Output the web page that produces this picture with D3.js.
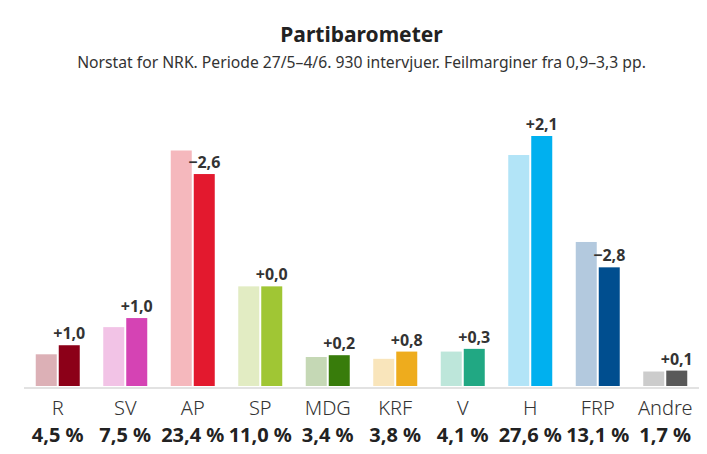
<!DOCTYPE html>
<html>
<head>
<meta charset="utf-8">
<script src="https://cdn.jsdelivr.net/npm/d3@7"></script>
<style>
  html, body { margin: 0; padding: 0; background: #fff; }
  svg { display: block; }
  text { font-family: "Noto Sans", Lato, sans-serif; }
</style>
</head>
<body>
<svg id="chart" width="707" height="454"></svg>
<script>
const parties = ["R", "SV", "AP", "SP", "MDG", "KRF", "V", "H", "FRP", "Andre"];
const current = [4.5, 7.5, 23.4, 11.0, 3.4, 3.8, 4.1, 27.6, 13.1, 1.7];
const change = [1.0, 1.0, -2.6, 0.0, 0.2, 0.8, 0.3, 2.1, -2.8, 0.1];
const previous = [3.5, 6.5, 26.0, 11.0, 3.2, 3.0, 3.8, 25.5, 15.9, 1.6];
const colorsPrev = ["#dcb0b6", "#f2c3e6", "#f5b8bd", "#e2ecc3", "#c5d8b5", "#f9e5bb", "#bde6da", "#b2e4f7", "#b3c9de", "#cccccc"];
const colorsCur = ["#8c0018", "#d543b4", "#e3192e", "#a0c634", "#387c0b", "#eeac1d", "#21a883", "#00b0ef", "#004e8f", "#595959"];
const title = "Partibarometer";
const subtitle = "Norstat for NRK. Periode 27/5–4/6. 930 intervjuer. Feilmarginer fra 0,9–3,3 pp.";

const fmt = v => v.toFixed(1).replace(".", ",");
const fmtChange = v => (v < 0 ? "−" : "+") + fmt(Math.abs(v));

const svg = d3.select("#chart");
const left = 24, right = 699, baseY = 386;

const x = d3.scaleBand().domain(parties).range([left, right]).padding(0);
const y = d3.scaleLinear().domain([0, 27.6]).range([baseY, 136]);
const barW = 21, gap = 2;

svg.append("text")
  .attr("x", (left + right) / 2).attr("y", 42)
  .attr("text-anchor", "middle")
  .attr("font-size", 21).attr("font-weight", 700).attr("fill", "#222")
  .text(title);

svg.append("text")
  .attr("x", (left + right) / 2).attr("y", 68)
  .attr("text-anchor", "middle")
  .attr("font-size", 15.7).attr("fill", "#333")
  .text(subtitle);

const data = parties.map((p, i) => ({ p, prev: previous[i], cur: current[i], ch: change[i], cp: colorsPrev[i], cc: colorsCur[i] }));

const g = svg.append("g").selectAll("g").data(data).join("g")
  .attr("transform", d => `translate(${x(d.p) + x.bandwidth() / 2},0)`);

g.append("rect")
  .attr("x", -barW - gap / 2).attr("width", barW)
  .attr("y", d => y(d.prev)).attr("height", d => baseY - y(d.prev))
  .attr("fill", d => d.cp);

g.append("rect")
  .attr("x", gap / 2).attr("width", barW)
  .attr("y", d => y(d.cur)).attr("height", d => baseY - y(d.cur))
  .attr("fill", d => d.cc);

g.append("text")
  .attr("x", gap / 2 + barW / 2).attr("y", d => y(d.cur) - 6)
  .attr("text-anchor", "middle")
  .attr("font-size", 16).attr("font-weight", 700).attr("fill", "#333")
  .text(d => fmtChange(d.ch));

// baseline axis line
svg.append("line")
  .attr("x1", left).attr("x2", right)
  .attr("y1", 388).attr("y2", 388)
  .attr("stroke", "#d9d9d9").attr("stroke-width", 1.5);

const axis = d3.axisBottom(x).tickSize(0).tickPadding(0);
const ax = svg.append("g").attr("transform", `translate(0,${baseY})`).call(axis);
ax.select(".domain").remove();
ax.selectAll(".tick text")
  .attr("y", 29).attr("dy", 0)
  .attr("font-family", "'Noto Sans', Lato, sans-serif")
  .attr("font-size", 20).attr("font-weight", 300).attr("fill", "#333");

g.append("text")
  .attr("x", 0).attr("y", 442)
  .attr("text-anchor", "middle")
  .attr("font-size", 20).attr("font-weight", 700).attr("fill", "#222")
  .text(d => fmt(d.cur) + " %");
</script>
</body>
</html>
